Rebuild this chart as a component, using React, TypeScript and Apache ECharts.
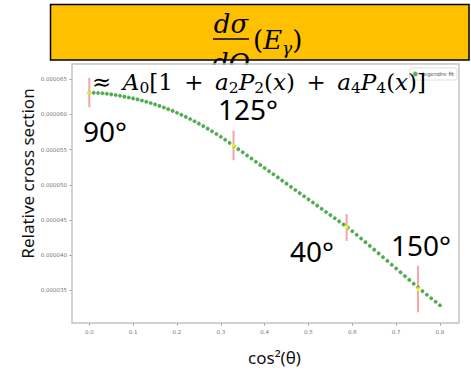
import React, { useEffect, useRef } from "react";
import * as echarts from "echarts";

const X_TICKS = [0, 0.1, 0.2, 0.3, 0.4, 0.5, 0.6, 0.7, 0.8];
const Y_TICKS = [0.000035, 0.00004, 0.000045, 0.00005, 0.000055, 0.00006, 0.000065];

const FIT_X = [
  0.0, 0.01, 0.02, 0.03, 0.04, 0.05, 0.06, 0.07, 0.08, 0.09,
  0.1, 0.11, 0.12, 0.13, 0.14, 0.15, 0.16, 0.17, 0.18, 0.19,
  0.2, 0.21, 0.22, 0.23, 0.24, 0.25, 0.26, 0.27, 0.28, 0.29,
  0.3, 0.31, 0.32, 0.33, 0.34, 0.35, 0.36, 0.37, 0.38, 0.39,
  0.4, 0.41, 0.42, 0.43, 0.44, 0.45, 0.46, 0.47, 0.48, 0.49,
  0.5, 0.51, 0.52, 0.53, 0.54, 0.55, 0.56, 0.57, 0.58, 0.59,
  0.6, 0.61, 0.62, 0.63, 0.64, 0.65, 0.66, 0.67, 0.68, 0.69,
  0.7, 0.71, 0.72, 0.73, 0.74, 0.75, 0.76, 0.77, 0.78, 0.79, 0.8,
];
const FIT_Y = [
  6.310e-5, 6.309e-5, 6.306e-5, 6.302e-5, 6.295e-5, 6.286e-5, 6.277e-5, 6.266e-5, 6.253e-5, 6.241e-5,
  6.228e-5, 6.214e-5, 6.198e-5, 6.181e-5, 6.163e-5, 6.143e-5, 6.122e-5, 6.099e-5, 6.076e-5, 6.051e-5,
  6.024e-5, 5.996e-5, 5.966e-5, 5.935e-5, 5.903e-5, 5.870e-5, 5.835e-5, 5.799e-5, 5.762e-5, 5.723e-5,
  5.683e-5, 5.641e-5, 5.597e-5, 5.552e-5, 5.507e-5, 5.463e-5, 5.418e-5, 5.374e-5, 5.329e-5, 5.284e-5,
  5.240e-5, 5.195e-5, 5.151e-5, 5.106e-5, 5.061e-5, 5.017e-5, 4.972e-5, 4.928e-5, 4.883e-5, 4.838e-5,
  4.794e-5, 4.749e-5, 4.705e-5, 4.660e-5, 4.615e-5, 4.571e-5, 4.526e-5, 4.482e-5, 4.437e-5, 4.392e-5,
  4.342e-5, 4.291e-5, 4.239e-5, 4.186e-5, 4.133e-5, 4.080e-5, 4.027e-5, 3.973e-5, 3.920e-5, 3.866e-5,
  3.812e-5, 3.758e-5, 3.704e-5, 3.650e-5, 3.596e-5, 3.542e-5, 3.491e-5, 3.440e-5, 3.390e-5, 3.340e-5, 3.290e-5,
];

const MEAS_X = [0.0, 0.329, 0.587, 0.75];
const MEAS_Y = [6.31e-5, 5.56e-5, 4.395e-5, 3.52e-5];
const MEAS_ERR = [2.08e-6, 2.1e-6, 1.9e-6, 3.3e-6];
const ANGLE_LABELS = ["90°", "125°", "40°", "150°"];

const X_MIN = -0.0395;
const X_MAX = 0.8434;
const Y_MIN = 3.038e-5;
const Y_MAX = 6.717e-5;

export default function App() {
  const ref = useRef<HTMLDivElement>(null);
  useEffect(() => {
    if (!ref.current) return;
    const chart = echarts.init(ref.current, undefined, { renderer: "svg" });
    const fitData = FIT_X.map((x, i) => [x, FIT_Y[i]]);
    const measData = MEAS_X.map((x, i) => [x, MEAS_Y[i]]);
    const errData = MEAS_X.map((x, i) => [x, MEAS_Y[i] - MEAS_ERR[i], MEAS_Y[i] + MEAS_ERR[i]]);
    const mathFont = "DejaVu Serif";
    const sansFont = "Noto Sans";
    const sp = "\u2002";
    const labelPos: [number, number][] = [
      [83, 130.5],
      [218, 109],
      [290, 251],
      [391, 245],
    ];
    chart.setOption({
      animation: false,
      grid: { left: 72, right: 12, top: 64, bottom: 48, show: false },
      legend: {
        data: [{ name: "legendre fit", icon: "circle" }],
        right: 14,
        top: 68,
        itemWidth: 4,
        itemHeight: 4,
        padding: [3, 3, 3, 3],
        borderColor: "#e0e0e0",
        borderWidth: 1,
        borderRadius: 2,
        textStyle: { fontSize: 5.5, color: "#555", fontFamily: "DejaVu Sans" },
      },
      xAxis: {
        type: "value",
        min: X_MIN,
        max: X_MAX,
        axisLine: { show: false, onZero: false },
        splitLine: { show: false },
        axisTick: { show: true, length: 2.5, customValues: X_TICKS, lineStyle: { color: "#999" } },
        axisLabel: {
          customValues: X_TICKS,
          formatter: (v: number) => v.toFixed(1),
          fontSize: 5.5,
          color: "#777",
          fontFamily: "DejaVu Sans",
          margin: 6,
        },
      },
      yAxis: {
        type: "value",
        min: Y_MIN,
        max: Y_MAX,
        axisLine: { show: false, onZero: false },
        splitLine: { show: false },
        axisTick: { show: true, length: 2.5, customValues: Y_TICKS, lineStyle: { color: "#999" } },
        axisLabel: {
          customValues: Y_TICKS,
          formatter: (v: number) => v.toFixed(6),
          fontSize: 5.5,
          color: "#777",
          fontFamily: "DejaVu Sans",
          margin: 5,
        },
      },
      series: [
        {
          type: "custom",
          name: "errors",
          data: errData,
          encode: { x: 0, y: [1, 2] },
          z: 1,
          renderItem: (_params: any, api: any) => {
            const x = api.value(0);
            const p1 = api.coord([x, api.value(1)]);
            const p2 = api.coord([x, api.value(2)]);
            return {
              type: "line",
              shape: { x1: p1[0], y1: p1[1], x2: p2[0], y2: p2[1] },
              style: { stroke: "#f6a3a3", lineWidth: 2 },
            };
          },
        },
        {
          type: "scatter",
          name: "legendre fit",
          data: fitData,
          symbol: "circle",
          symbolSize: 3.6,
          z: 2,
          itemStyle: { color: "#2b942b", borderColor: "rgba(80,180,80,0.5)", borderWidth: 0.8 },
        },
        {
          type: "scatter",
          name: "data",
          data: measData,
          symbol: "circle",
          symbolSize: 4,
          z: 3,
          itemStyle: { color: "#ffff22" },
        },
      ],
      graphic: [
        {
          type: "rect",
          z: 1,
          shape: { x: 50.5, y: 4.5, width: 418.5, height: 55.5 },
          style: { fill: "#FFC000", stroke: "#000", lineWidth: 1.5 },
        },
        {
          type: "text",
          z: 2,
          style: {
            x: 231,
            y: 23.7,
            text: "dσ",
            font: `italic 26px "${mathFont}"`,
            fill: "#000",
            align: "center",
            verticalAlign: "middle",
          },
        },
        {
          type: "line",
          z: 2,
          shape: { x1: 213, y1: 39, x2: 249, y2: 39 },
          style: { stroke: "#000", lineWidth: 1.5 },
        },
        {
          type: "text",
          z: 2,
          style: {
            x: 231,
            y: 62.7,
            text: "dΩ",
            font: `italic 26px "${mathFont}"`,
            fill: "#000",
            align: "center",
            verticalAlign: "middle",
          },
        },
        {
          type: "text",
          z: 2,
          style: {
            x: 253,
            y: 40,
            text: "{m|(}{i|E}{s|γ}{m|)}",
            align: "left",
            verticalAlign: "middle",
            fill: "#000",
            rich: {
              m: { fontFamily: mathFont, fontSize: 26, lineHeight: 32 },
              i: { fontFamily: mathFont, fontStyle: "italic", fontSize: 26, lineHeight: 32 },
              s: { fontFamily: mathFont, fontStyle: "italic", fontSize: 17, lineHeight: 17, verticalAlign: "bottom" },
            },
          },
        },
        {
          type: "rect",
          z: 3,
          shape: { x: 205, y: 64.8, width: 55, height: 12 },
          style: { fill: "#fff" },
        },
        {
          type: "rect",
          z: 10,
          shape: { x: 72, y: 64, width: 387, height: 259 },
          style: { fill: "none", stroke: "#c4c4c4", lineWidth: 1.5 },
        },
        {
          type: "text",
          z: 11,
          style: {
            x: 92,
            y: 82,
            text:
              `{m|≈${sp}}{i|A}{s|0}{m|[1${sp}+${sp}}{i|a}{s|2}{i|P}{s|2}{m|(}{i|x}{m|)${sp}+${sp}}{i|a}{s|4}{i|P}{s|4}{m|(}{i|x}{m|)]}`,
            align: "left",
            verticalAlign: "middle",
            fill: "#000",
            rich: {
              m: { fontFamily: mathFont, fontSize: 23, lineHeight: 28 },
              i: { fontFamily: mathFont, fontStyle: "italic", fontSize: 23, lineHeight: 28 },
              s: { fontFamily: mathFont, fontSize: 15.5, lineHeight: 15, verticalAlign: "bottom" },
            },
          },
        },
        ...ANGLE_LABELS.map((t, i) => ({
          type: "text",
          z: 11,
          style: {
            x: labelPos[i][0],
            y: labelPos[i][1],
            text: t,
            font: `28px "${sansFont}"`,
            fill: "#000",
            align: "left",
            verticalAlign: "middle",
          },
        })),
        {
          type: "text",
          z: 11,
          x: 27,
          y: 173.5,
          rotation: Math.PI / 2,
          style: {
            x: 0,
            y: 0,
            text: "Relative cross section",
            font: `17px "${sansFont}"`,
            fill: "#111",
            align: "center",
            verticalAlign: "middle",
          },
        },
        {
          type: "text",
          z: 11,
          style: {
            x: 274.5,
            y: 357,
            text: "cos²(θ)",
            font: `17px "${sansFont}"`,
            fill: "#111",
            align: "center",
            verticalAlign: "middle",
          },
        },
      ],
    });
    return () => chart.dispose();
  }, []);
  return <div ref={ref} style={{ width: 471, height: 371, position: "absolute", left: 0, top: 0 }} />;
}
